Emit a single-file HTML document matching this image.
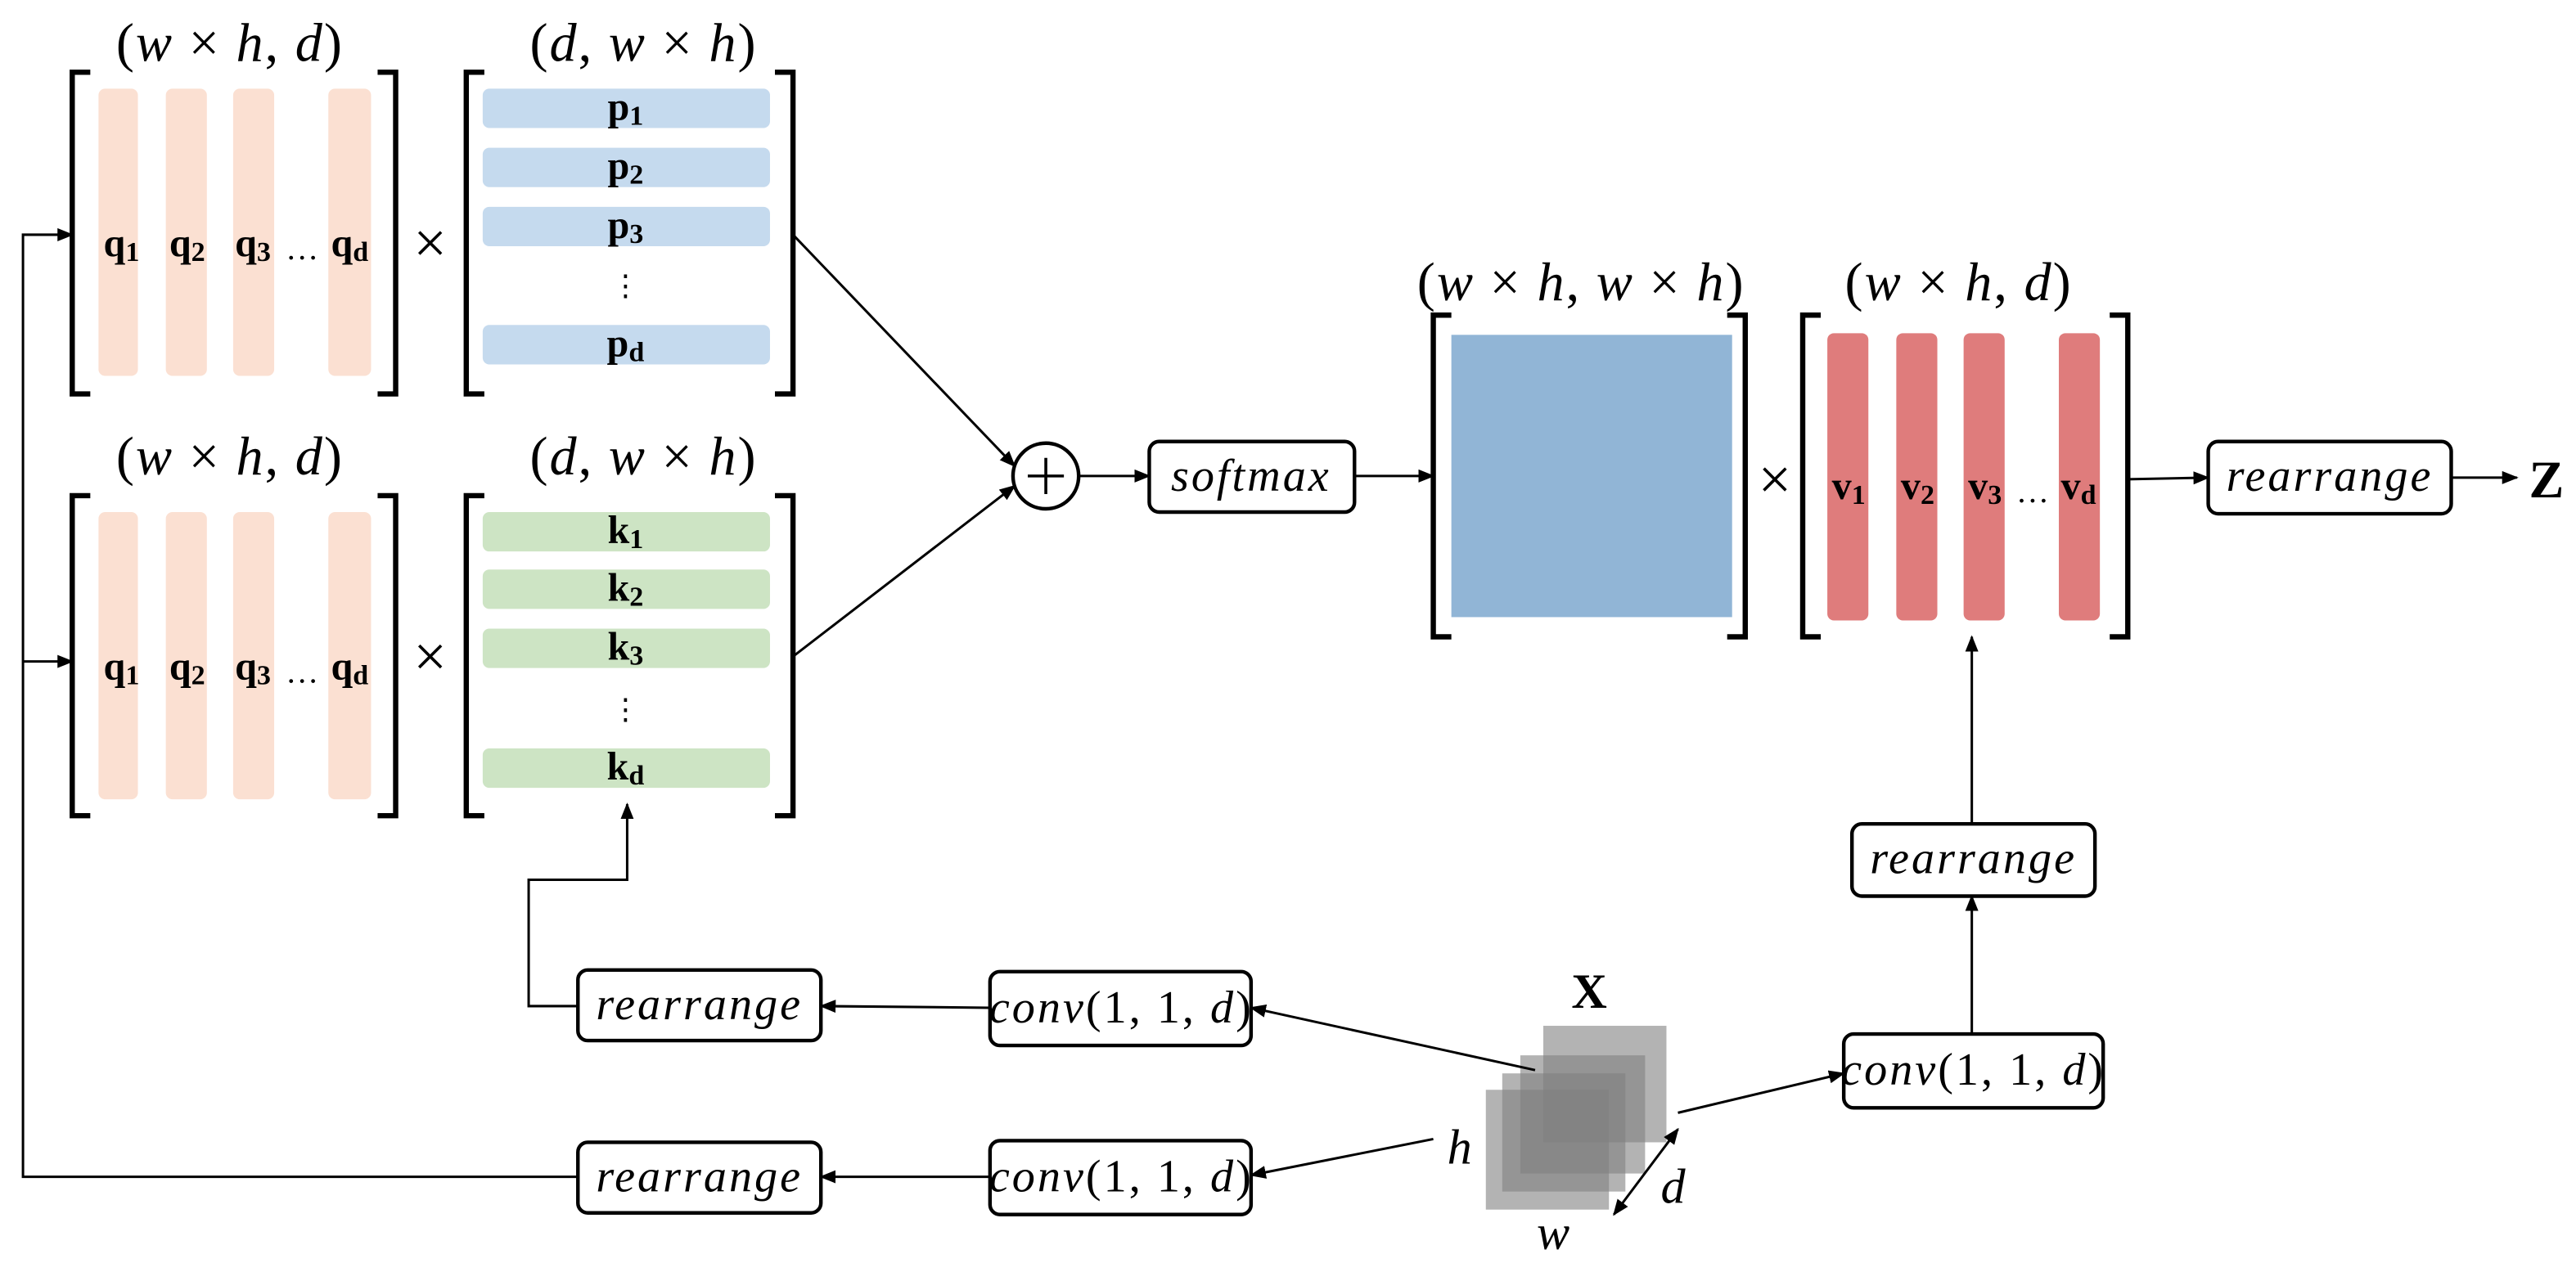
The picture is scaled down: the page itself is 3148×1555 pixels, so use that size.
<!DOCTYPE html>
<html><head><meta charset="utf-8"><style>html,body{margin:0;padding:0;background:#fff}svg{display:block}
.t{font-family:"Liberation Serif",serif;font-size:26px;text-anchor:middle}
.h{font-size:33px;letter-spacing:1px}
.bt{font-size:28px;letter-spacing:1.5px}
.i{font-style:italic}
.b{font-family:"Liberation Serif",serif;font-weight:bold;font-size:24px;text-anchor:middle}
.sb{font-size:17px}
.br{fill:none;stroke:#000;stroke-width:3.2}
.ln{fill:none;stroke:#000;stroke-width:1.5}
.bx{fill:#fff;stroke:#000;stroke-width:2.2}
</style></head><body>
<svg width="3148" height="1555" viewBox="0 0 1569 775" xmlns="http://www.w3.org/2000/svg">
<defs><marker id="a" markerWidth="10" markerHeight="8" refX="9" refY="4" orient="auto" markerUnits="userSpaceOnUse"><path d="M0,0 L10,4 L0,8z" fill="#000"/></marker>
<marker id="s" markerWidth="10" markerHeight="8" refX="1" refY="4" orient="auto" markerUnits="userSpaceOnUse"><path d="M10,0 L0,4 L10,8z" fill="#000"/></marker></defs>

<!-- Q top -->
<text class="t h" x="140" y="37">(<tspan class="i">w</tspan> × <tspan class="i">h</tspan>, <tspan class="i">d</tspan>)</text>
<path class="br" d="M55,44 H44 V240 H55 M230,44 H241 V240 H230"/>
<g fill="#fbe0d2"><rect x="60" y="54" width="24" height="175" rx="4"/><rect x="101" y="54" width="25" height="175" rx="4"/><rect x="142" y="54" width="25" height="175" rx="4"/><rect x="200" y="54" width="26" height="175" rx="4"/></g>
<text class="b" x="74" y="156">q<tspan class="sb" dy="3">1</tspan></text><text class="b" x="114" y="156">q<tspan class="sb" dy="3">2</tspan></text><text class="b" x="154" y="156">q<tspan class="sb" dy="3">3</tspan></text><text class="t" x="184" y="158" style="font-size:20px">…</text><text class="b" x="213" y="156">q<tspan class="sb" dy="3">d</tspan></text>
<text class="t" x="262" y="160" style="font-size:36px">×</text>
<!-- P -->
<text class="t h" x="392" y="37">(<tspan class="i">d</tspan>, <tspan class="i">w</tspan> × <tspan class="i">h</tspan>)</text>
<path class="br" d="M295,44 H284 V240 H295 M472,44 H483 V240 H472"/>
<g fill="#c5daee"><rect x="294" y="54" width="175" height="24" rx="4"/><rect x="294" y="90" width="175" height="24" rx="4"/><rect x="294" y="126" width="175" height="24" rx="4"/><rect x="294" y="198" width="175" height="24" rx="4"/></g>
<text class="b" x="381" y="73">p<tspan class="sb" dy="3">1</tspan></text><text class="b" x="381" y="109">p<tspan class="sb" dy="3">2</tspan></text><text class="b" x="381" y="145">p<tspan class="sb" dy="3">3</tspan></text><text class="t" x="381" y="180" style="font-size:18px">⋮</text><text class="b" x="381" y="217">p<tspan class="sb" dy="3">d</tspan></text>

<!-- Q bottom -->
<text class="t h" x="140" y="289">(<tspan class="i">w</tspan> × <tspan class="i">h</tspan>, <tspan class="i">d</tspan>)</text>
<path class="br" d="M55,302 H44 V497 H55 M230,302 H241 V497 H230"/>
<g fill="#fbe0d2"><rect x="60" y="312" width="24" height="175" rx="4"/><rect x="101" y="312" width="25" height="175" rx="4"/><rect x="142" y="312" width="25" height="175" rx="4"/><rect x="200" y="312" width="26" height="175" rx="4"/></g>
<text class="b" x="74" y="414">q<tspan class="sb" dy="3">1</tspan></text><text class="b" x="114" y="414">q<tspan class="sb" dy="3">2</tspan></text><text class="b" x="154" y="414">q<tspan class="sb" dy="3">3</tspan></text><text class="t" x="184" y="416" style="font-size:20px">…</text><text class="b" x="213" y="414">q<tspan class="sb" dy="3">d</tspan></text>
<text class="t" x="262" y="412" style="font-size:36px">×</text>
<!-- K -->
<text class="t h" x="392" y="289">(<tspan class="i">d</tspan>, <tspan class="i">w</tspan> × <tspan class="i">h</tspan>)</text>
<path class="br" d="M295,302 H284 V497 H295 M472,302 H483 V497 H472"/>
<g fill="#cde4c4"><rect x="294" y="312" width="175" height="24" rx="4"/><rect x="294" y="347" width="175" height="24" rx="4"/><rect x="294" y="383" width="175" height="24" rx="4"/><rect x="294" y="456" width="175" height="24" rx="4"/></g>
<text class="b" x="381" y="331">k<tspan class="sb" dy="3">1</tspan></text><text class="b" x="381" y="366">k<tspan class="sb" dy="3">2</tspan></text><text class="b" x="381" y="402">k<tspan class="sb" dy="3">3</tspan></text><text class="t" x="381" y="438" style="font-size:18px">⋮</text><text class="b" x="381" y="475">k<tspan class="sb" dy="3">d</tspan></text>

<!-- plus / softmax -->
<line class="ln" x1="483" y1="143" x2="618" y2="284" marker-end="url(#a)"/>
<line class="ln" x1="483" y1="400" x2="618" y2="296" marker-end="url(#a)"/>
<circle cx="637" cy="290" r="20" fill="#fff" stroke="#000" stroke-width="2.2"/>
<path d="M626,290 H648 M637,279 V301" stroke="#000" stroke-width="1.8"/>
<line class="ln" x1="657" y1="290" x2="700" y2="290" marker-end="url(#a)"/>
<rect class="bx" x="700" y="269" width="125" height="43" rx="6"/>
<text class="t i bt" x="762" y="299">softmax</text>
<line class="ln" x1="825" y1="290" x2="873" y2="290" marker-end="url(#a)"/>

<!-- attention -->
<text class="t h" x="963" y="183">(<tspan class="i">w</tspan> × <tspan class="i">h</tspan>, <tspan class="i">w</tspan> × <tspan class="i">h</tspan>)</text>
<path class="br" d="M884,192 H873 V388 H884 M1052,192 H1063 V388 H1052"/>
<rect x="884" y="204" width="171" height="172" fill="#91b5d6"/>
<text class="t" x="1081" y="304" style="font-size:36px">×</text>
<!-- V -->
<text class="t h" x="1193" y="183">(<tspan class="i">w</tspan> × <tspan class="i">h</tspan>, <tspan class="i">d</tspan>)</text>
<path class="br" d="M1109,192 H1098 V388 H1109 M1285,192 H1296 V388 H1285"/>
<g fill="#df7c7c"><rect x="1113" y="203" width="25" height="175" rx="4"/><rect x="1155" y="203" width="25" height="175" rx="4"/><rect x="1196" y="203" width="25" height="175" rx="4"/><rect x="1254" y="203" width="25" height="175" rx="4"/></g>
<text class="b" x="1126" y="304">v<tspan class="sb" dy="3">1</tspan></text><text class="b" x="1168" y="304">v<tspan class="sb" dy="3">2</tspan></text><text class="b" x="1209" y="304">v<tspan class="sb" dy="3">3</tspan></text><text class="t" x="1238" y="306" style="font-size:20px">…</text><text class="b" x="1266" y="304">v<tspan class="sb" dy="3">d</tspan></text>
<line class="ln" x1="1296" y1="292" x2="1345" y2="291" marker-end="url(#a)"/>
<rect class="bx" x="1345" y="269" width="148" height="44" rx="6"/>
<text class="t i bt" x="1419" y="299">rearrange</text>
<line class="ln" x1="1493" y1="291" x2="1533" y2="291" marker-end="url(#a)"/>
<text class="t" x="1551" y="303" style="font-weight:bold;font-size:32px">Z</text>

<!-- right branch -->
<line class="ln" x1="1201" y1="502" x2="1201" y2="388" marker-end="url(#a)"/>
<rect class="bx" x="1128" y="502" width="148" height="44" rx="6"/>
<text class="t i bt" x="1202" y="532">rearrange</text>
<line class="ln" x1="1201" y1="630" x2="1201" y2="546" marker-end="url(#a)"/>
<rect class="bx" x="1123" y="630" width="158" height="45" rx="6"/>
<text class="t bt" x="1202" y="661"><tspan class="i">conv</tspan>(1, 1, <tspan class="i">d</tspan>)</text>
<line class="ln" x1="1022" y1="678" x2="1123" y2="654" marker-end="url(#a)"/>

<!-- cube -->
<g fill="#808080" fill-opacity="0.6"><rect x="940" y="625" width="75" height="71"/><rect x="926" y="643" width="76" height="72"/><rect x="915" y="654" width="75" height="72"/><rect x="905" y="664" width="75" height="73"/></g>
<text class="t" x="968" y="614" style="font-weight:bold;font-size:30px">X</text>
<text class="t i" x="889" y="709" style="font-size:30px">h</text>
<text class="t i" x="946" y="761" style="font-size:30px">w</text>
<text class="t i" x="1019" y="733" style="font-size:30px">d</text>
<line class="ln" x1="983" y1="740" x2="1022" y2="688" marker-start="url(#s)" marker-end="url(#a)"/>

<!-- conv boxes left -->
<line class="ln" x1="935" y1="652" x2="762" y2="614" marker-end="url(#a)"/>
<line class="ln" x1="873" y1="694" x2="762" y2="716" marker-end="url(#a)"/>
<rect class="bx" x="603" y="592" width="159" height="45" rx="6"/>
<text class="t bt" x="683" y="623"><tspan class="i">conv</tspan>(1, 1, <tspan class="i">d</tspan>)</text>
<rect class="bx" x="603" y="695" width="159" height="45" rx="6"/>
<text class="t bt" x="683" y="726"><tspan class="i">conv</tspan>(1, 1, <tspan class="i">d</tspan>)</text>
<line class="ln" x1="603" y1="614" x2="500" y2="613" marker-end="url(#a)"/>
<line class="ln" x1="603" y1="717" x2="500" y2="717" marker-end="url(#a)"/>
<rect class="bx" x="352" y="591" width="148" height="43" rx="6"/>
<text class="t i bt" x="426" y="621">rearrange</text>
<rect class="bx" x="352" y="696" width="148" height="43" rx="6"/>
<text class="t i bt" x="426" y="726">rearrange</text>
<path class="ln" d="M352,613 H322 V536 H382 V490" marker-end="url(#a)"/>
<path class="ln" d="M352,717 H14 V143 H44" marker-end="url(#a)"/>
<path class="ln" d="M14,403 H44" marker-end="url(#a)"/>
</svg>
</body></html>
